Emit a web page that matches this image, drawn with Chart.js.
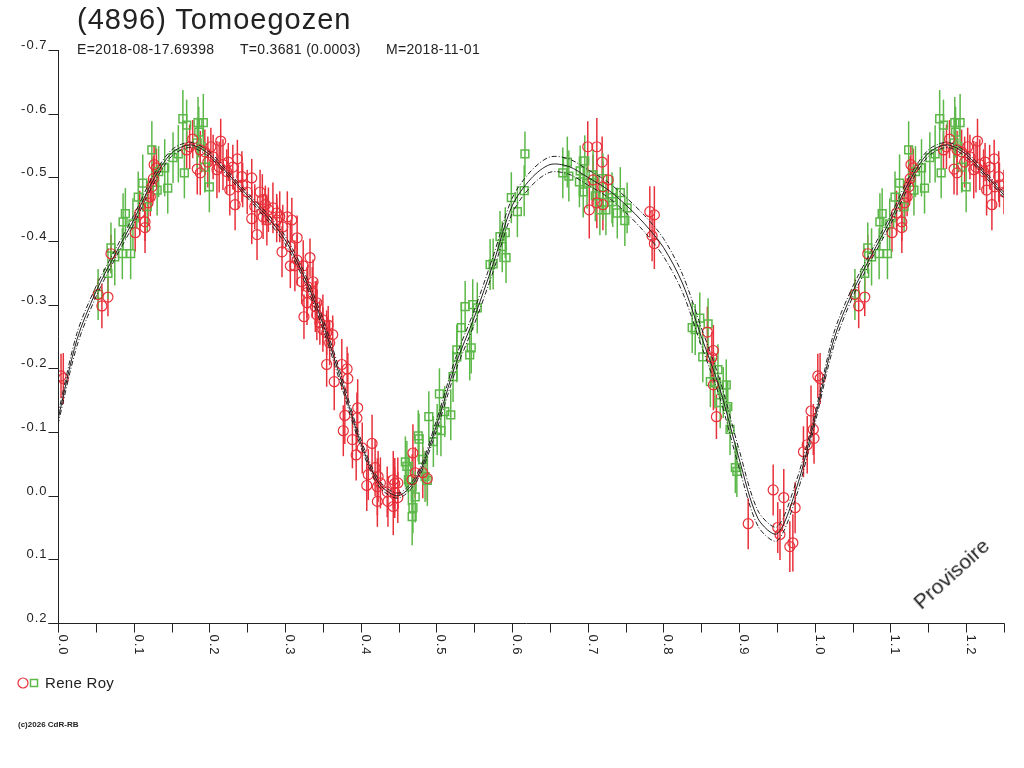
<!DOCTYPE html>
<html>
<head>
<meta charset="utf-8">
<title>(4896) Tomoegozen</title>
<script src="https://cdn.jsdelivr.net/npm/chart.js@4.4.1/dist/chart.umd.min.js"></script>
<style>
  html, body { margin:0; padding:0; background:#fff; }
  #wrap { position:relative; width:1024px; height:768px; overflow:hidden; font-family:"Liberation Sans", Arial, sans-serif; color:#222; }
  #wrap canvas { position:absolute; left:0; top:0; }
  .txt { position:absolute; white-space:pre; }
</style>
</head>
<body>
<div id="wrap">
  <canvas id="lcChart" width="1024" height="768"></canvas>
  <div class="txt" style="left:77px;top:5px;font-size:29px;line-height:29px;letter-spacing:1px;">(4896) Tomoegozen</div>
  <div class="txt" style="left:77px;top:42px;font-size:14px;line-height:14px;letter-spacing:0.3px;">E=2018-08-17.69398</div>
  <div class="txt" style="left:240px;top:42px;font-size:14px;line-height:14px;letter-spacing:0.3px;">T=0.3681 (0.0003)</div>
  <div class="txt" style="left:386px;top:42px;font-size:14px;line-height:14px;letter-spacing:0.3px;">M=2018-11-01</div>
  <div class="txt" style="left:45px;top:675px;font-size:15px;line-height:15px;letter-spacing:0.3px;">Rene Roy</div>
  <div class="txt" style="left:18px;top:721px;font-size:8px;line-height:8px;font-weight:bold;">(c)2026 CdR-RB</div>
  <div class="txt" style="left:922px;top:592px;font-size:21px;line-height:22px;transform-origin:0 19px;transform:rotate(-42deg);">Provisoire</div>
</div>
<script>
// =============================
// DATA
// =============================
// [phase, magnitude, error]
let redPoints = [
  [0.004,-0.188,0.035],[0.007,-0.184,0.04],
  [0.053,-0.316,0.025],[0.058,-0.298,0.035],[0.066,-0.312,0.03],[0.070,-0.380,0.03],
  [0.102,-0.413,0.03],[0.108,-0.444,0.035],[0.115,-0.430,0.03],[0.115,-0.421,0.04],[0.119,-0.460,0.035],
  [0.122,-0.469,0.03],[0.124,-0.485,0.03],[0.126,-0.498,0.035],[0.130,-0.515,0.03],[0.127,-0.520,0.03],
  [0.170,-0.543,0.03],[0.174,-0.548,0.035],[0.178,-0.560,0.03],[0.184,-0.513,0.04],[0.188,-0.507,0.035],
  [0.188,-0.543,0.03],[0.194,-0.540,0.035],[0.198,-0.524,0.04],[0.202,-0.548,0.03],[0.205,-0.532,0.035],
  [0.210,-0.512,0.045],[0.213,-0.516,0.04],[0.215,-0.557,0.035],[0.218,-0.520,0.04],[0.223,-0.509,0.035],
  [0.225,-0.524,0.03],[0.227,-0.480,0.04],[0.231,-0.516,0.035],[0.234,-0.457,0.04],[0.237,-0.529,0.03],
  [0.238,-0.485,0.035],[0.243,-0.501,0.04],[0.244,-0.488,0.035],
  [0.250,-0.477,0.035],[0.256,-0.499,0.03],[0.256,-0.435,0.04],[0.260,-0.454,0.035],[0.263,-0.410,0.04],
  [0.267,-0.477,0.035],[0.270,-0.465,0.04],[0.271,-0.438,0.035],[0.274,-0.457,0.03],[0.276,-0.433,0.04],
  [0.278,-0.449,0.035],[0.284,-0.452,0.04],[0.289,-0.433,0.035],[0.289,-0.444,0.03],[0.293,-0.438,0.04],
  [0.296,-0.383,0.04],[0.297,-0.422,0.035],[0.303,-0.438,0.04],[0.307,-0.361,0.035],[0.307,-0.391,0.04],
  [0.309,-0.433,0.035],[0.313,-0.361,0.04],[0.316,-0.405,0.035],[0.316,-0.370,0.04],[0.322,-0.336,0.035],
  [0.324,-0.361,0.04],[0.325,-0.281,0.035],[0.329,-0.319,0.04],[0.329,-0.303,0.035],[0.330,-0.328,0.035],
  [0.333,-0.374,0.03],[0.336,-0.319,0.04],[0.337,-0.336,0.035],[0.340,-0.297,0.04],[0.342,-0.303,0.035],
  [0.342,-0.284,0.04],[0.346,-0.272,0.035],[0.350,-0.261,0.035],[0.350,-0.276,0.04],[0.355,-0.256,0.035],
  [0.357,-0.268,0.03],[0.359,-0.240,0.035],[0.363,-0.253,0.03],
  [0.355,-0.206,0.035],[0.375,-0.206,0.04],[0.382,-0.199,0.035],[0.365,-0.179,0.045],[0.383,-0.184,0.04],
  [0.379,-0.126,0.045],[0.395,-0.122,0.04],[0.396,-0.138,0.045],[0.377,-0.102,0.04],[0.389,-0.088,0.045],
  [0.394,-0.064,0.04],[0.402,-0.075,0.04],[0.415,-0.082,0.045],[0.410,-0.033,0.04],[0.419,-0.044,0.045],
  [0.423,-0.030,0.04],[0.408,-0.016,0.04],[0.422,-0.014,0.045],[0.426,-0.020,0.04],[0.422,0.009,0.04],
  [0.435,-0.006,0.04],[0.443,-0.025,0.045],[0.445,-0.019,0.04],[0.449,-0.020,0.04],[0.436,0.009,0.04],
  [0.443,0.017,0.045],[0.449,0.003,0.04],[0.445,-0.005,0.04],[0.469,-0.067,0.045],[0.472,-0.036,0.04],
  [0.468,-0.025,0.04],[0.482,-0.036,0.04],[0.488,-0.027,0.035],
  [0.700,-0.548,0.04],[0.712,-0.548,0.045],[0.719,-0.524,0.04],[0.707,-0.496,0.04],[0.702,-0.449,0.045],
  [0.712,-0.460,0.04],[0.720,-0.485,0.04],[0.727,-0.496,0.04],[0.720,-0.457,0.04],
  [0.782,-0.446,0.04],[0.788,-0.441,0.045],[0.785,-0.408,0.04],[0.788,-0.396,0.04],
  [0.858,-0.257,0.04],[0.866,-0.228,0.04],[0.864,-0.217,0.04],[0.866,-0.174,0.04],[0.870,-0.124,0.035],
  [0.912,0.044,0.04],[0.945,-0.009,0.04],[0.959,0.003,0.045],[0.951,0.050,0.04],[0.954,0.061,0.04],
  [0.967,0.080,0.04],[0.971,0.074,0.045],[0.974,0.019,0.04],[0.985,-0.069,0.04],[0.990,-0.080,0.045],
  [0.999,-0.090,0.04],[0.998,-0.104,0.04],[0.995,-0.133,0.04]
];

let greenPoints = [
  [0.053,-0.316,0.04],[0.066,-0.349,0.04],[0.070,-0.389,0.04],[0.075,-0.375,0.045],[0.085,-0.380,0.04],
  [0.096,-0.380,0.04],[0.086,-0.430,0.045],[0.089,-0.443,0.04],[0.099,-0.427,0.04],[0.106,-0.469,0.04],
  [0.112,-0.491,0.045],[0.118,-0.454,0.04],[0.124,-0.543,0.045],[0.131,-0.480,0.04],[0.133,-0.509,0.04],
  [0.141,-0.515,0.045],[0.145,-0.483,0.04],[0.152,-0.531,0.04],[0.159,-0.537,0.045],[0.167,-0.507,0.04],
  [0.165,-0.592,0.045],[0.170,-0.582,0.04],[0.185,-0.586,0.04],[0.192,-0.586,0.045],[0.186,-0.571,0.04],
  [0.184,-0.554,0.04],[0.194,-0.516,0.04],[0.200,-0.485,0.04],
  [0.459,-0.053,0.04],[0.461,-0.046,0.04],[0.463,-0.025,0.04],[0.468,-0.014,0.04],[0.472,0.002,0.04],
  [0.469,0.019,0.04],[0.468,0.033,0.045],[0.476,-0.094,0.04],[0.477,-0.089,0.04],[0.482,-0.057,0.04],
  [0.488,-0.024,0.04],[0.485,-0.030,0.04],[0.490,-0.124,0.04],[0.496,-0.085,0.04],[0.501,-0.104,0.04],
  [0.506,-0.102,0.04],[0.504,-0.160,0.04],[0.511,-0.132,0.04],[0.519,-0.127,0.04],[0.522,-0.187,0.04],
  [0.527,-0.218,0.04],[0.527,-0.229,0.04],[0.544,-0.221,0.04],[0.546,-0.232,0.04],[0.533,-0.264,0.04],
  [0.538,-0.297,0.04],[0.548,-0.300,0.04],[0.554,-0.295,0.04],[0.571,-0.363,0.04],[0.575,-0.364,0.04],
  [0.584,-0.407,0.04],[0.587,-0.391,0.04],[0.591,-0.413,0.04],[0.592,-0.374,0.04],[0.599,-0.468,0.04],
  [0.607,-0.446,0.04],[0.616,-0.479,0.04],[0.617,-0.537,0.035],
  [0.673,-0.524,0.04],[0.667,-0.507,0.04],[0.675,-0.502,0.04],[0.690,-0.510,0.04],[0.696,-0.526,0.04],
  [0.689,-0.493,0.04],[0.694,-0.477,0.04],[0.699,-0.491,0.04],[0.707,-0.504,0.04],[0.710,-0.471,0.04],
  [0.720,-0.498,0.04],[0.720,-0.473,0.04],[0.716,-0.449,0.04],[0.724,-0.449,0.04],[0.732,-0.468,0.04],
  [0.733,-0.462,0.04],[0.739,-0.444,0.04],[0.743,-0.476,0.04],[0.752,-0.452,0.04],[0.749,-0.432,0.04],
  [0.838,-0.264,0.04],[0.842,-0.261,0.04],[0.848,-0.279,0.04],[0.859,-0.270,0.04],[0.852,-0.218,0.04],
  [0.872,-0.198,0.04],[0.862,-0.179,0.04],[0.868,-0.177,0.04],[0.883,-0.174,0.04],[0.875,-0.146,0.04],
  [0.885,-0.140,0.04],[0.879,-0.162,0.04],[0.888,-0.104,0.04],[0.895,-0.044,0.04],[0.897,-0.038,0.04]
];

// fitted curve and its two limits
let curvePhase = [
  0.000,0.025,0.050,0.075,0.100,0.125,0.150,0.175,0.200,0.225,
  0.250,0.275,0.300,0.325,0.350,0.375,0.400,0.425,0.450,0.475,
  0.500,0.525,0.550,0.575,0.600,0.625,0.650,0.675,0.700,0.725,
  0.750,0.775,0.800,0.825,0.850,0.875,0.900,0.925,0.950,0.975,
  1.000,1.025,1.050,1.075,1.100,1.125,1.150,1.175,1.200,1.225,1.250
];
let curveMid = [
  -0.120,-0.245,-0.320,-0.378,-0.433,-0.494,-0.538,-0.551,-0.536,-0.505,
  -0.472,-0.440,-0.402,-0.345,-0.270,-0.178,-0.083,-0.018,0.000,-0.030,
  -0.110,-0.205,-0.280,-0.364,-0.455,-0.498,-0.520,-0.517,-0.500,-0.482,
  -0.457,-0.427,-0.390,-0.334,-0.250,-0.166,-0.058,0.036,0.060,-0.009,
  -0.120,-0.245,-0.320,-0.378,-0.433,-0.494,-0.538,-0.551,-0.536,-0.505,-0.472
];
let curveHigh = [
  -0.128,-0.255,-0.328,-0.385,-0.440,-0.501,-0.543,-0.555,-0.540,-0.509,
  -0.476,-0.445,-0.408,-0.352,-0.278,-0.186,-0.089,-0.023,-0.004,-0.035,
  -0.118,-0.215,-0.291,-0.376,-0.467,-0.510,-0.532,-0.529,-0.512,-0.494,
  -0.469,-0.440,-0.404,-0.348,-0.264,-0.180,-0.072,0.024,0.049,-0.021,
  -0.128,-0.255,-0.328,-0.385,-0.440,-0.501,-0.543,-0.555,-0.540,-0.509,-0.476
];
let curveLow = [
  -0.112,-0.235,-0.312,-0.371,-0.426,-0.487,-0.533,-0.547,-0.532,-0.501,
  -0.468,-0.435,-0.396,-0.338,-0.262,-0.170,-0.077,-0.013,0.004,-0.025,
  -0.102,-0.195,-0.269,-0.352,-0.443,-0.486,-0.508,-0.505,-0.488,-0.470,
  -0.445,-0.414,-0.376,-0.320,-0.236,-0.152,-0.044,0.048,0.071,0.003,
  -0.112,-0.235,-0.312,-0.371,-0.426,-0.487,-0.533,-0.547,-0.532,-0.501,-0.468
];

// axes
let yTicks = [-0.7,-0.6,-0.5,-0.4,-0.3,-0.2,-0.1,0.0,0.1,0.2];
let yLabels = ["-0.7","-0.6","-0.5","-0.4","-0.3","-0.2","-0.1","0.0","0.1","0.2"];
let xTicks = [0,0.05,0.1,0.15,0.2,0.25,0.3,0.35,0.4,0.45,0.5,0.55,0.6,0.65,0.7,0.75,
              0.8,0.85,0.9,0.95,1.0,1.05,1.1,1.15,1.2,1.25];
let xLabelValues = [0,0.1,0.2,0.3,0.4,0.5,0.6,0.7,0.8,0.9,1.0,1.1,1.2];
let xLabels = ["0.0","0.1","0.2","0.3","0.4","0.5","0.6","0.7","0.8","0.9","1.0","1.1","1.2"];

const RED = "#e8303a";
const GREEN = "#5cb848";
const INK = "#222222";
const FONT = '"Liberation Sans", Arial, sans-serif';

// phases up to 0.25 are shown again after 1.0
function foldPoints(list){
  let out = list.map(p => ({x:p[0], y:p[1], e:p[2]}));
  list.forEach(function(p){
    if(p[0] <= 0.25){
      out.push({x:p[0] + 1, y:p[1], e:p[2]});
    }
  });
  return out;
}

function curveData(values){
  return curvePhase.map((p, i) => ({x:p, y:values[i]}));
}

// =============================
// PLUGINS
// =============================
const errorBars = {
  id: "errorBars",
  beforeDatasetsDraw(chart){
    let ctx = chart.ctx;
    let yScale = chart.scales.y;
    let area = chart.chartArea;
    ctx.save();
    ctx.beginPath();
    ctx.rect(area.left, area.top, area.right - area.left, area.bottom - area.top);
    ctx.clip();
    chart.data.datasets.forEach(function(ds, i){
      if(!ds.errorBars) return;
      let meta = chart.getDatasetMeta(i);
      ctx.strokeStyle = ds.borderColor;
      ctx.lineWidth = 1.5;
      meta.data.forEach(function(pt, j){
        let d = ds.data[j];
        let top = yScale.getPixelForValue(d.y - d.e);
        let bot = yScale.getPixelForValue(d.y + d.e);
        ctx.beginPath();
        ctx.moveTo(pt.x, top);
        ctx.lineTo(pt.x, bot);
        ctx.stroke();
      });
    });
    ctx.restore();
  }
};

const frame = {
  id: "frame",
  afterDraw(chart){
    let ctx = chart.ctx;
    let xs = chart.scales.x;
    let ys = chart.scales.y;
    let left = Math.round(xs.getPixelForValue(0)) + 0.5;
    let bottom = Math.round(ys.getPixelForValue(0.2)) + 0.5;
    let top = Math.round(ys.getPixelForValue(-0.7));
    let right = Math.round(xs.getPixelForValue(1.25)) + 0.5;

    ctx.save();
    ctx.strokeStyle = INK;
    ctx.fillStyle = INK;
    ctx.lineWidth = 1;

    // axis lines
    ctx.beginPath();
    ctx.moveTo(left, top);
    ctx.lineTo(left, bottom);
    ctx.moveTo(left - 10, bottom);
    ctx.lineTo(right, bottom);
    ctx.stroke();

    // y ticks + labels
    ctx.font = "13px " + FONT;
    if("letterSpacing" in ctx) ctx.letterSpacing = "1px";
    ctx.textAlign = "right";
    ctx.textBaseline = "alphabetic";
    yTicks.forEach(function(v, i){
      let py = Math.round(ys.getPixelForValue(v)) + 0.5;
      ctx.beginPath();
      ctx.moveTo(left - 10, py);
      ctx.lineTo(left, py);
      ctx.stroke();
      ctx.fillText(yLabels[i], left - 11, py - 2);
    });

    // x ticks
    xTicks.forEach(function(v){
      let px = Math.round(xs.getPixelForValue(v)) + 0.5;
      ctx.beginPath();
      ctx.moveTo(px, bottom);
      ctx.lineTo(px, bottom + 9);
      ctx.stroke();
    });

    // x labels, turned a quarter clockwise
    ctx.textAlign = "left";
    xLabelValues.forEach(function(v, i){
      let px = Math.round(xs.getPixelForValue(v));
      ctx.save();
      ctx.translate(px + 1, bottom + 11);
      ctx.rotate(Math.PI / 2);
      ctx.fillText(xLabels[i], 0, 0);
      ctx.restore();
    });

    // legend symbols
    ctx.lineWidth = 1.2;
    ctx.strokeStyle = RED;
    ctx.beginPath();
    ctx.arc(23, 683, 5, 0, Math.PI * 2);
    ctx.stroke();
    ctx.strokeStyle = GREEN;
    ctx.lineWidth = 1.5;
    ctx.strokeRect(30.5, 679.5, 7, 7);
    ctx.restore();
  }
};

// =============================
// CHART
// =============================
let ctx = document.getElementById("lcChart");

new Chart(ctx, {
  type: "scatter",
  data: {
    datasets: [
      {
        label: "fit",
        data: curveData(curveMid),
        showLine: true,
        borderColor: INK,
        borderWidth: 1,
        pointRadius: 0,
        tension: 0.3,
        order: 0
      },
      {
        label: "fit+",
        data: curveData(curveHigh),
        showLine: true,
        borderColor: INK,
        borderWidth: 1,
        borderDash: [5, 2, 1, 2],
        pointRadius: 0,
        tension: 0.3,
        order: 0
      },
      {
        label: "fit-",
        data: curveData(curveLow),
        showLine: true,
        borderColor: INK,
        borderWidth: 1,
        borderDash: [5, 2, 1, 2],
        pointRadius: 0,
        tension: 0.3,
        order: 0
      },
      {
        label: "Rene Roy",
        data: foldPoints(redPoints),
        errorBars: true,
        pointStyle: "circle",
        pointRadius: 5,
        borderColor: RED,
        backgroundColor: "rgba(0,0,0,0)",
        borderWidth: 1.2,
        order: 1
      },
      {
        label: "Rene Roy 2",
        data: foldPoints(greenPoints),
        errorBars: true,
        pointStyle: "rect",
        pointRadius: 5.5,
        borderColor: GREEN,
        backgroundColor: "rgba(0,0,0,0)",
        borderWidth: 1.5,
        order: 2
      }
    ]
  },
  options: {
    responsive: false,
    animation: false,
    devicePixelRatio: 1,
    layout: { padding: { left: 58, top: 50, right: 20, bottom: 145 } },
    plugins: {
      legend: { display: false },
      tooltip: { enabled: false }
    },
    scales: {
      x: { type: "linear", min: 0, max: 1.25, display: false },
      y: { type: "linear", min: -0.7, max: 0.2, reverse: true, display: false }
    }
  },
  plugins: [errorBars, frame]
});
</script>
</body>
</html>
